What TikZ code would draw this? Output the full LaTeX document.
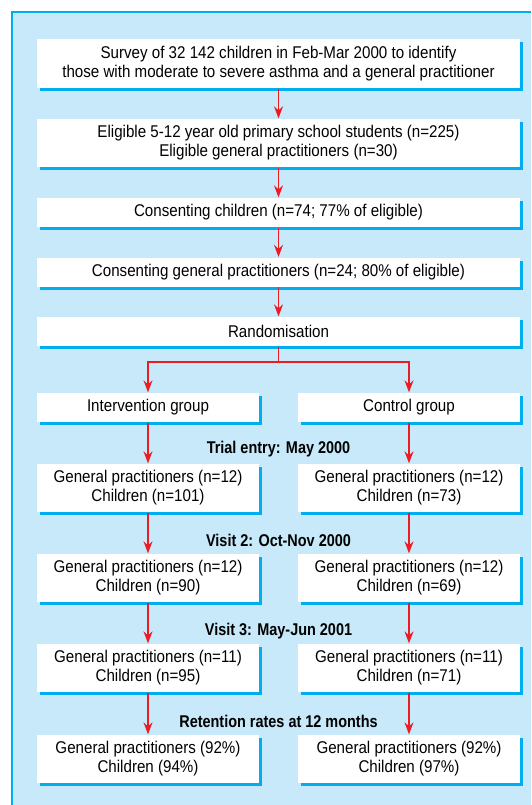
\documentclass[tikz,border=0pt]{standalone}
\usepackage{fontspec}
\setmainfont[FakeStretch=0.89, BoldFeatures={FakeStretch=0.85}]{Liberation Sans}
\usepackage{tikz}
\usetikzlibrary{arrows.meta,positioning,shadows}
\definecolor{panelblue}{RGB}{199,233,249}
\definecolor{edgecyan}{RGB}{0,174,239}
\definecolor{arrowred}{RGB}{237,28,36}
\tikzset{>={Stealth[length=12pt,width=9pt,inset=4pt]},
         every path/.append style={line width=1.3pt},
         flowbox/.style={fill=white, inner sep=0pt, align=center,
            font=\fontsize{17}{19}\selectfont,
            drop shadow={shadow xshift=3pt, shadow yshift=-3pt,
                         fill=edgecyan, opacity=1}},
         widebox/.style={flowbox, minimum width=483pt},
         halfbox/.style={flowbox, minimum width=222pt},
         stage/.style={font=\bfseries\fontsize{17}{19}\selectfont, inner sep=0pt},
         flow/.style={->, draw=arrowred, line width=1.5pt}}

\begin{document}
\begin{tikzpicture}[x=1pt, y=-1pt]
   \useasboundingbox (0,0) rectangle (531,805);
   \fill[panelblue] (12,12) rectangle (531,805);
   \draw[edgecyan] (12,805) -- (12,12) -- (531,12);

   \node[widebox, minimum height=49pt] (survey) at (278.5,63.5)
     {Survey of 32 142 children in Feb-Mar 2000 to identify\\
      those with moderate to severe asthma and a general practitioner};
   \node[widebox, minimum height=48pt] (eligible) at (278.5,143)
     {Eligible 5-12 year old primary school students (n=225)\\
      Eligible general practitioners (n=30)};
   \node[widebox, minimum height=29pt] (kids) at (278.5,212.5)
     {Consenting children (n=74; 77\% of eligible)};
   \node[widebox, minimum height=29pt] (gps) at (278.5,272)
     {Consenting general practitioners (n=24; 80\% of eligible)};
   \node[widebox, minimum height=29pt] (rand) at (278.5,331.5) {Randomisation};

   \node[halfbox, minimum height=29pt] (int) at (148,407.5) {Intervention group};
   \node[halfbox, minimum height=29pt] (ctl) at (409,407.5) {Control group};

   \node[stage] (entry) at (278.5,449) {Trial entry: May 2000};
   \node[halfbox, minimum height=48pt] (int1) at (148,488)
     {General practitioners (n=12)\\ Children (n=101)};
   \node[halfbox, minimum height=48pt] (ctl1) at (409,488)
     {General practitioners (n=12)\\ Children (n=73)};

   \node[stage] (visit2) at (278.5,540) {Visit 2: Oct-Nov 2000};
   \node[halfbox, minimum height=48pt] (int2) at (148,578)
     {General practitioners (n=12)\\ Children (n=90)};
   \node[halfbox, minimum height=48pt] (ctl2) at (409,578)
     {General practitioners (n=12)\\ Children (n=69)};

   \node[stage] (visit3) at (278.5,631) {Visit 3: May-Jun 2001};
   \node[halfbox, minimum height=48pt] (int3) at (148,668)
     {General practitioners (n=11)\\ Children (n=95)};
   \node[halfbox, minimum height=48pt] (ctl3) at (409,668)
     {General practitioners (n=11)\\ Children (n=71)};

   \node[stage] (retain) at (278.5,721) {Retention rates at 12 months};
   \node[halfbox, minimum height=48pt] (int4) at (148,759)
     {General practitioners (92\%)\\ Children (94\%)};
   \node[halfbox, minimum height=48pt] (ctl4) at (409,759)
     {General practitioners (92\%)\\ Children (97\%)};

   \draw[flow] (survey) -- (eligible);
   \draw[flow] (eligible) -- (kids);
   \draw[flow] (kids) -- (gps);
   \draw[flow] (gps) -- (rand);
   \coordinate (split) at (278.5,362);
   \draw[flow, -] (rand) -- (split);
   \draw[flow] (split) -| (int);
   \draw[flow] (split) -| (ctl);
   \foreach \a/\b in {int/int1,int1/int2,int2/int3,int3/int4,
                      ctl/ctl1,ctl1/ctl2,ctl2/ctl3,ctl3/ctl4}
     \draw[flow] (\a) -- (\b);
\end{tikzpicture}
\end{document}
